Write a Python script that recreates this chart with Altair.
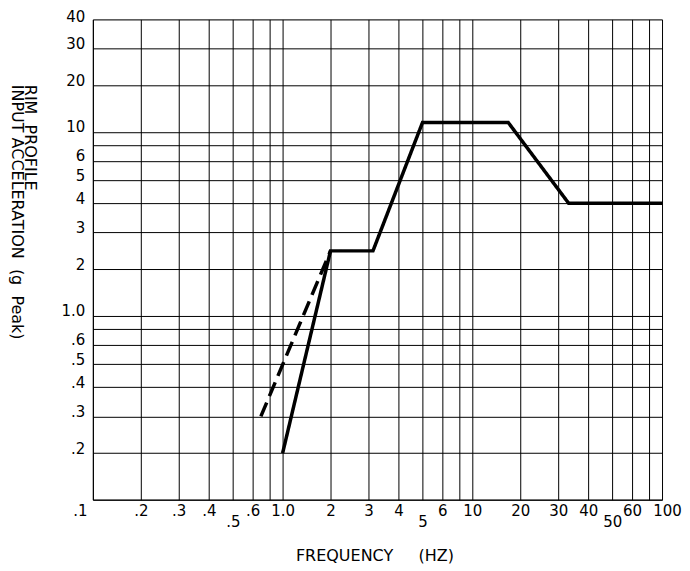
import altair as alt
import pandas as pd

# ---- data ----
solid_freq = [1.0, 2, 3.15, 5, 17.5, 33.5, 100]
solid_acc = [0.2, 2.5, 2.5, 12, 12, 4, 4]
dashed_freq = [0.7, 2]
dashed_acc = [0.3, 2.5]

x_ticks = [0.1, 0.2, 0.3, 0.4, 0.5, 0.6, 0.8, 1, 2, 3, 4, 5, 6, 8, 10, 20, 30, 40, 50, 60, 80, 100]
x_labels = [".1", ".2", ".3", ".4", ".5", ".6", "", "1.0", "2", "3", "4", "5", "6", "", "10", "20", "30", "40", "50", "60", "", "100"]
y_ticks = [0.1, 0.2, 0.3, 0.4, 0.5, 0.6, 0.8, 1, 2, 3, 4, 5, 6, 8, 10, 20, 30, 40]
y_labels = ["", ".2", ".3", ".4", ".5", ".6", "", "1.0", "2", "3", "4", "5", "6", "", "10", "20", "30", "40"]

NB = "\u00a0"
x_title = "FREQUENCY" + NB * 5 + "(HZ)"
y_title = ["RIM" + NB * 2 + "PROFILE", "INPUT ACCELERATION" + NB * 2 + "(g" + NB * 2 + "Peak)"]

# drafted (non-true-log) spacing of the grid lines within each decade
decade_frac = [0, 0.2526, 0.4526, 0.611, 0.7375, 0.842, 0.929]

W, H = 570, 481
x_dec = W / 3.0
y_dec = H / (2 + 0.611)


def grid_range(n_ticks, dec_px):
    out = []
    for i in range(n_ticks):
        d, k = divmod(i, 7)
        out.append((d + decade_frac[k]) * dec_px)
    return out


x_range = grid_range(len(x_ticks), x_dec)
y_range = [H - p for p in grid_range(len(y_ticks), y_dec)]


def label_expr(vals, labels):
    e = "''"
    for v, l in reversed(list(zip(vals, labels))):
        e = f"datum.value == {v} ? '{l}' : ({e})"
    return e


rows = []
for i, (f, a) in enumerate(zip(solid_freq, solid_acc)):
    rows.append({"freq": f, "acc": a, "series": "solid", "idx": i})
for i, (f, a) in enumerate(zip(dashed_freq, dashed_acc)):
    rows.append({"freq": f, "acc": a, "series": "dashed", "idx": i})
df = pd.DataFrame(rows)

FONT = "DejaVu Sans"

x_axis = alt.Axis(
    values=x_ticks,
    labelExpr=label_expr(x_ticks, x_labels),
    grid=True,
    gridColor="#000000",
    gridWidth=1,
    ticks=False,
    domainColor="#000000",
    domainWidth=1,
    labelFont=FONT,
    labelFontSize=15,
    labelColor="#000000",
    labelBaseline="top",
    labelPadding={"condition": {"test": "datum.value == 0.5 || datum.value == 5 || datum.value == 50", "value": 15}, "value": 4},
    labelOffset={"condition": [{"test": "datum.value == 0.1", "value": -13}, {"test": "datum.value == 100", "value": 5}], "value": 0},
    labelOverlap=False,
    labelFlush=False,
    labelBound=False,
    title=x_title,
    titleFont=FONT,
    titleFontSize=16,
    titleFontWeight="normal",
    titleColor="#000000",
    titleX=282,
    titleY=56,
    titleAlign="center",
    titleBaseline="middle",
)

y_axis = alt.Axis(
    values=y_ticks,
    labelExpr=label_expr(y_ticks, y_labels),
    grid=True,
    gridColor="#000000",
    gridWidth=1,
    ticks=False,
    domainColor="#000000",
    domainWidth=1,
    labelFont=FONT,
    labelFontSize=15,
    labelColor="#000000",
    labelBaseline="alphabetic",
    labelPadding=8,
    labelOffset={"condition": {"test": "datum.value == 40", "value": 2}, "value": 0},
    labelOverlap=False,
    labelFlush=False,
    labelBound=False,
    title=y_title,
    titleFont=FONT,
    titleFontSize=16,
    titleFontWeight="normal",
    titleColor="#000000",
    titleAngle=90,
    titleAlign="left",
    titleBaseline="middle",
    titleLineHeight=13,
    titleX=-63,
    titleY=65,
)

chart = alt.Chart(df).mark_line(
    color="#000000", strokeWidth=3.5, strokeJoin="miter", strokeCap="butt"
).encode(
    x=alt.X("freq:Q", scale=alt.Scale(domain=x_ticks, range=x_range, zero=False, nice=False), axis=x_axis),
    y=alt.Y("acc:Q", scale=alt.Scale(domain=y_ticks, range=y_range, zero=False, nice=False), axis=y_axis),
    strokeDash=alt.StrokeDash("series:N", scale=alt.Scale(domain=["solid", "dashed"], range=[[1, 0], [15, 7]]), legend=None),
    detail="series:N",
    order="idx:Q",
).properties(
    width=W,
    height=H,
    autosize=alt.AutoSizeParams(type="none"),
    padding={"left": 85, "top": 11, "right": 20, "bottom": 66},
).configure_view(strokeOpacity=0).configure(background="#ffffff")

chart.save("out.html", embed_options={"renderer": "svg", "actions": False})
